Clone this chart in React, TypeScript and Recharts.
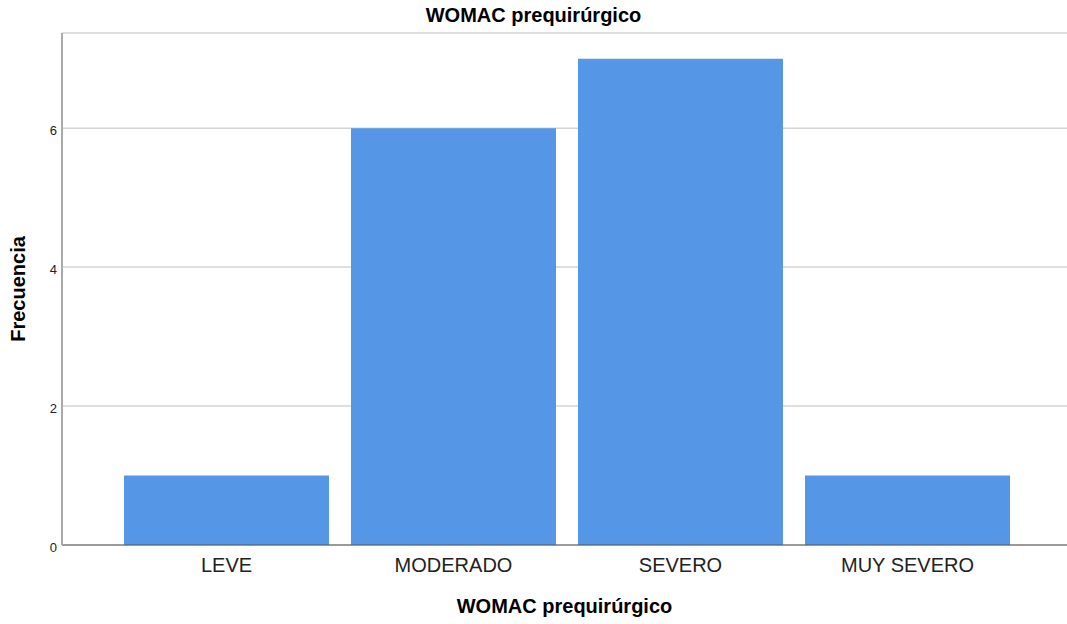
import { BarChart, Bar, XAxis, YAxis, CartesianGrid, Label } from 'recharts';

const categories = ['LEVE', 'MODERADO', 'SEVERO', 'MUY SEVERO'];
const frequencies = [1, 6, 7, 1];
const yTicks = [0, 2, 4, 6];

const data = categories.map((name, i) => ({ name, value: frequencies[i] }));

const FONT = '"Liberation Sans", Arial, sans-serif';

export default function App() {
  return (
    <div style={{ position: 'absolute', left: 0, top: 0, width: 1067, height: 624, background: '#fff', fontFamily: FONT }}>
      <div
        style={{
          position: 'absolute',
          top: 4,
          left: 0,
          width: 1067,
          textAlign: 'center',
          fontWeight: 'bold',
          fontSize: 20,
          color: '#000',
        }}
      >
        WOMAC prequirúrgico
      </div>
      <BarChart
        width={1067}
        height={624}
        data={data}
        margin={{ top: 33, right: 0, bottom: 49, left: 0 }}
        barCategoryGap={11}
      >
        <CartesianGrid vertical={false} stroke="#d4d4d4" strokeWidth={1.5} />
        <XAxis
          dataKey="name"
          height={30}
          padding={{ left: 51, right: 46 }}
          axisLine={{ stroke: '#555', strokeWidth: 1 }}
          tickLine={false}
          tickMargin={7}
          tick={{ fill: '#222', fontSize: 20, fontFamily: FONT }}
        >
          <Label
            value="WOMAC prequirúrgico"
            position="bottom"
            offset={24}
            style={{ fontWeight: 'bold', fontSize: 20, fill: '#000', fontFamily: FONT }}
          />
        </XAxis>
        <YAxis
          width={62}
          domain={[0, 7.37]}
          ticks={yTicks}
          allowDataOverflow
          axisLine={{ stroke: '#aaa', strokeWidth: 2 }}
          tickLine={false}
          tickMargin={-1}
          tick={{ fill: '#222', fontSize: 13, fontFamily: FONT, dy: 2 }}
        >
          <Label
            value="Frecuencia"
            angle={-90}
            position="insideLeft"
            offset={18}
            style={{ fontWeight: 'bold', fontSize: 20, fill: '#000', fontFamily: FONT, textAnchor: 'middle' }}
          />
        </YAxis>
        <Bar dataKey="value" fill="#5596E6" isAnimationActive={false} />
      </BarChart>
    </div>
  );
}
